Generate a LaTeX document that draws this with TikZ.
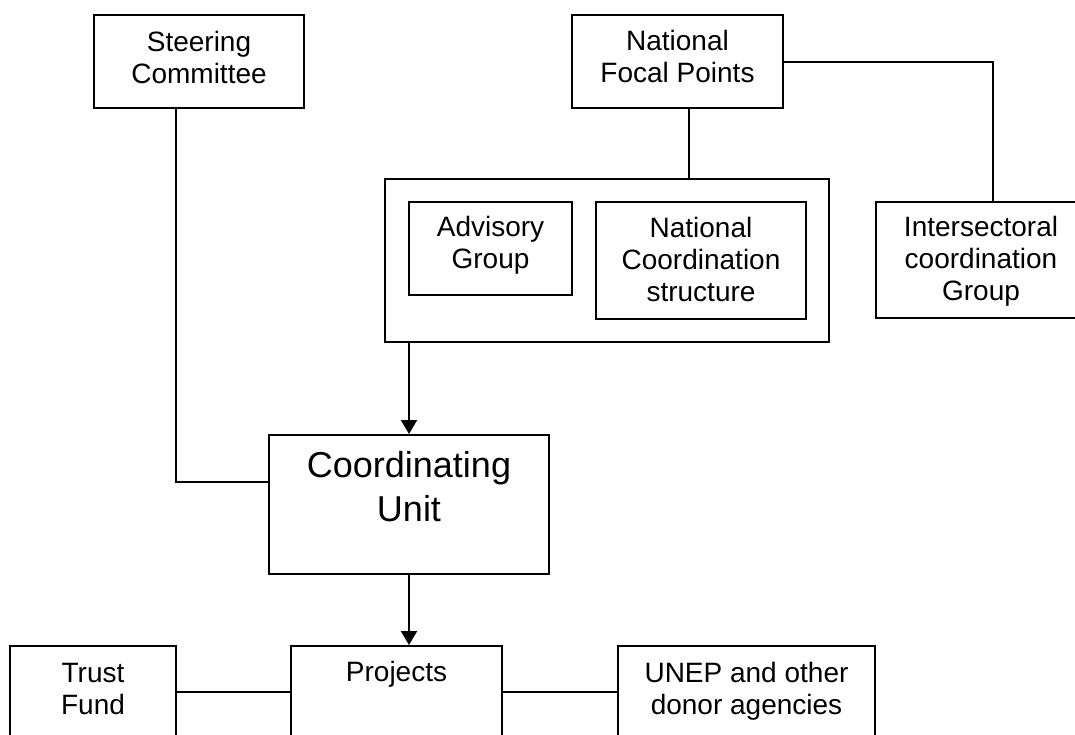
\documentclass[tikz,border=0pt]{standalone}
\usepackage{fontspec}
\setmainfont{Liberation Sans}
\usetikzlibrary{arrows.meta}

\begin{document}
\begin{tikzpicture}[x=1pt, y=-1pt, line width=2pt,
    box/.style={rectangle, draw, inner sep=0pt},
    lbl/.style={anchor=base, align=center, inner sep=0pt, font=\fontsize{28}{32}\selectfont},
    biglbl/.style={lbl, font=\fontsize{36}{44}\selectfont},
    arr/.style={-{Triangle[width=16pt,length=14pt]}}]
    \useasboundingbox (0,0) rectangle (1075,734);
    \fill[white] (0,0) rectangle (1075,734);
    \clip (0,0) rectangle (1075,734);

    \node[box, minimum width=210pt, minimum height=93pt] (steering) at (199,61.5) {};
    \node[lbl] (steeringtxt) at ([yshift=-69pt]steering.north) {Steering\\Committee};
    \node[box, minimum width=211pt, minimum height=93pt] (focal) at (677.5,61.5) {};
    \node[lbl] (focaltxt) at ([yshift=-68pt]focal.north) {National\\Focal Points};

    \node[box, minimum width=444pt, minimum height=163pt] (national) at (607,260.5) {};
    \node[box, minimum width=163pt, minimum height=93pt] (advisory) at (490.5,248.5) {};
    \node[lbl] (advisorytxt) at ([yshift=-67pt]advisory.north) {Advisory\\Group};
    \node[box, minimum width=210pt, minimum height=117pt] (structure) at (701,260.5) {};
    \node[lbl] (structuretxt) at ([yshift=-100pt]structure.north) {National\\Coordination\\structure};
    \node[box, minimum width=210pt, minimum height=116pt] (intersect) at (981,260) {};
    \node[lbl] (intersecttxt) at ([yshift=-99pt]intersect.north) {Intersectoral\\coordination\\Group};

    \node[box, minimum width=280pt, minimum height=139pt] (unit) at (409,504.5) {};
    \node[biglbl] (unittxt) at ([yshift=-87pt]unit.north) {Coordinating\\Unit};

    \node[box, minimum width=166pt, minimum height=92pt] (trust) at (93,692) {};
    \node[lbl] (trusttxt) at ([yshift=-69pt]trust.north) {Trust\\Fund};
    \node[box, minimum width=211pt, minimum height=92pt] (projects) at (396.5,692) {};
    \node[lbl] (projectstxt) at ([yshift=-36pt]projects.north) {Projects};
    \node[box, minimum width=257pt, minimum height=92pt] (donors) at (746.5,692) {};
    \node[lbl] (donorstxt) at ([yshift=-69pt]donors.north) {UNEP and other\\donor agencies};

    \draw ([xshift=-23pt]steering.south) |- ([yshift=22.5pt]unit.west);
    \draw ([xshift=11.5pt]focal.south) -- ([xshift=11.5pt]focal.south |- national.north);
    \draw (focal.east) -| ([xshift=12pt]intersect.north);
    \draw[arr] (national.south -| unit.north) -- (unit.north);
    \draw[arr] (unit.south) -- (unit.south |- projects.north);
    \draw (trust) -- (projects);
    \draw (projects) -- (donors);
\end{tikzpicture}
\end{document}
